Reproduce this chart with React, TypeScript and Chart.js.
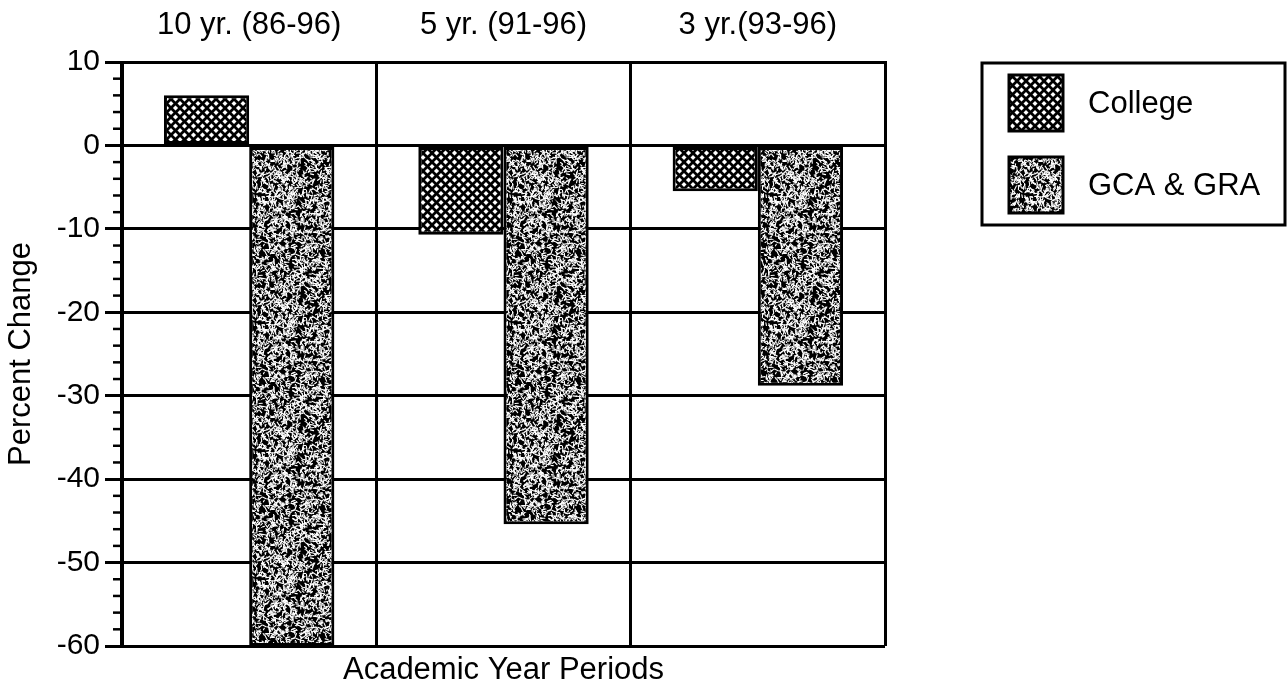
import React, { useEffect, useRef } from "react";
import { Chart, registerables } from "chart.js";

Chart.register(...registerables);

// ---------- data ----------
const categories = ["10 yr. (86-96)", "5 yr. (91-96)", "3 yr.(93-96)"];
const seriesLabels = ["College", "GCA & GRA"];
const collegeValues = [6.0, -10.7, -5.5];
const gcaGraValues = [-60, -45.4, -28.8];
const yMin = -60;
const yMax = 10;
const yMajorStep = 10;
const yMinorStep = 2;
const xAxisTitle = "Academic Year Periods";
const yAxisTitle = "Percent Change";

const FONT = "'Liberation Sans', Arial, Helvetica, sans-serif";

// deterministic texture generator (style only, not data)
function makeRng(seed: number) {
  let s = seed >>> 0;
  return () => {
    s = (s * 1664525 + 1013904223) >>> 0;
    return s / 4294967296;
  };
}

function crossHatchPattern(ctx: CanvasRenderingContext2D): CanvasPattern {
  const size = 9;
  const c = document.createElement("canvas");
  c.width = size;
  c.height = size;
  const g = c.getContext("2d")!;
  g.fillStyle = "#fff";
  g.fillRect(0, 0, size, size);
  g.strokeStyle = "#000";
  g.lineWidth = 2.7;
  for (const off of [-size, 0, size]) {
    g.beginPath();
    g.moveTo(off, 0);
    g.lineTo(off + size, size);
    g.stroke();
    g.beginPath();
    g.moveTo(off + size, 0);
    g.lineTo(off, size);
    g.stroke();
  }
  return ctx.createPattern(c, "repeat")!;
}

function noisePattern(ctx: CanvasRenderingContext2D): CanvasPattern {
  const size = 128;
  const c = document.createElement("canvas");
  c.width = size;
  c.height = size;
  const g = c.getContext("2d")!;
  const rnd = makeRng(12345);
  g.fillStyle = "#000";
  g.fillRect(0, 0, size, size);
  g.strokeStyle = "#fff";
  g.lineWidth = 1.1;
  g.lineCap = "round";
  for (let i = 0; i < 2500; i++) {
    const x = rnd() * size;
    const y = rnd() * size;
    const a = rnd() * Math.PI * 2;
    const l = 1.5 + rnd() * 3;
    g.beginPath();
    g.moveTo(x, y);
    g.lineTo(x + Math.cos(a) * l, y + Math.sin(a) * l);
    g.stroke();
  }
  g.fillStyle = "#000";
  for (let i = 0; i < 30; i++) {
    const x = rnd() * size;
    const y = rnd() * size;
    g.beginPath();
    g.arc(x, y, 1.2 + rnd() * 1.5, 0, Math.PI * 2);
    g.fill();
  }
  return ctx.createPattern(c, "repeat")!;
}

const minorTicksPlugin = {
  id: "minorTicks",
  afterDraw(chart: any) {
    const y = chart.scales.y;
    const ctx = chart.ctx as CanvasRenderingContext2D;
    ctx.save();
    ctx.strokeStyle = "#000";
    ctx.lineWidth = 2.5;
    for (let v = yMin; v <= yMax; v += yMinorStep) {
      if (v % yMajorStep === 0) continue;
      const py = y.getPixelForValue(v);
      ctx.beginPath();
      ctx.moveTo(y.right - 9, py);
      ctx.lineTo(y.right, py);
      ctx.stroke();
    }
    ctx.restore();
  },
};

const boxLegendPlugin = {
  id: "boxLegend",
  afterDraw(chart: any) {
    const ctx = chart.ctx as CanvasRenderingContext2D;
    const box = { x: 982, y: 63, w: 303, h: 162 };
    ctx.save();
    ctx.strokeStyle = "#000";
    ctx.lineWidth = 3;
    ctx.strokeRect(box.x, box.y, box.w, box.h);
    const rows = [
      { sy: 75, ty: 104 },
      { sy: 157, ty: 186 },
    ];
    chart.data.datasets.forEach((ds: any, i: number) => {
      const r = rows[i];
      ctx.fillStyle = ds.backgroundColor;
      ctx.fillRect(1009, r.sy, 54, 56);
      ctx.lineWidth = 3;
      ctx.strokeRect(1009, r.sy, 54, 56);
      ctx.fillStyle = "#000";
      ctx.font = `31px ${FONT}`;
      ctx.textBaseline = "middle";
      ctx.textAlign = "left";
      ctx.fillText(ds.label, 1088, r.ty);
    });
    ctx.restore();
  },
};

export default function App() {
  const canvasRef = useRef<HTMLCanvasElement | null>(null);

  useEffect(() => {
    const canvas = canvasRef.current;
    if (!canvas) return;
    const ctx = canvas.getContext("2d")!;
    Chart.defaults.font.family = FONT;
    Chart.defaults.color = "#000";

    const hatch = crossHatchPattern(ctx);
    const noise = noisePattern(ctx);

    const chart = new Chart(ctx, {
      type: "bar",
      data: {
        labels: categories,
        datasets: [
          {
            label: seriesLabels[0],
            data: collegeValues,
            backgroundColor: hatch as any,
            borderColor: "#000",
            borderWidth: 3,
            borderSkipped: false,
            xAxisID: "x",
            yAxisID: "y",
          },
          {
            label: seriesLabels[1],
            data: gcaGraValues,
            backgroundColor: noise as any,
            borderColor: "#000",
            borderWidth: 3,
            borderSkipped: false,
            xAxisID: "x",
            yAxisID: "y",
          },
        ],
      },
      options: {
        animation: false,
        responsive: true,
        maintainAspectRatio: false,
        layout: { padding: { left: 0, top: 0, right: 402, bottom: -4 } },
        datasets: {
          bar: { categoryPercentage: 0.67, barPercentage: 1.0 },
        },
        plugins: {
          legend: { display: false },
          tooltip: { enabled: false },
        },
        scales: {
          x: {
            position: "top",
            grid: { offset: true, color: "#000", lineWidth: 3, drawTicks: false },
            border: { color: "#000", width: 3 },
            ticks: {
              font: { size: 31 },
              color: "#000",
              padding: 18,
              maxRotation: 0,
              autoSkip: false,
            },
            afterFit: (s: any) => {
              s.height = 62;
            },
          },
          x2: {
            type: "category",
            position: "bottom",
            labels: categories,
            grid: { display: false },
            border: { display: false },
            ticks: { display: false },
            title: {
              display: true,
              text: xAxisTitle,
              font: { size: 31 },
              color: "#000",
              padding: 0,
            },
            afterFit: (s: any) => {
              s.height = 43;
            },
          },
          y: {
            min: yMin,
            max: yMax,
            ticks: {
              stepSize: yMajorStep,
              font: { size: 30 },
              color: "#000",
              padding: 5,
            },
            grid: {
              color: "#000",
              lineWidth: 3,
              tickLength: 17,
              tickColor: "#000",
              tickWidth: 3,
            },
            border: { color: "#000", width: 3 },
            title: {
              display: true,
              text: yAxisTitle,
              font: { size: 31 },
              color: "#000",
              padding: { top: 3, bottom: 0 },
            },
            afterFit: (s: any) => {
              s.width = 122;
            },
          },
        },
      },
      plugins: [minorTicksPlugin, boxLegendPlugin],
    });

    return () => {
      chart.destroy();
    };
  }, []);

  return (
    <div
      style={{
        position: "fixed",
        left: 0,
        top: 0,
        width: "1287px",
        height: "685px",
        background: "#fff",
      }}
    >
      <canvas ref={canvasRef} />
    </div>
  );
}
